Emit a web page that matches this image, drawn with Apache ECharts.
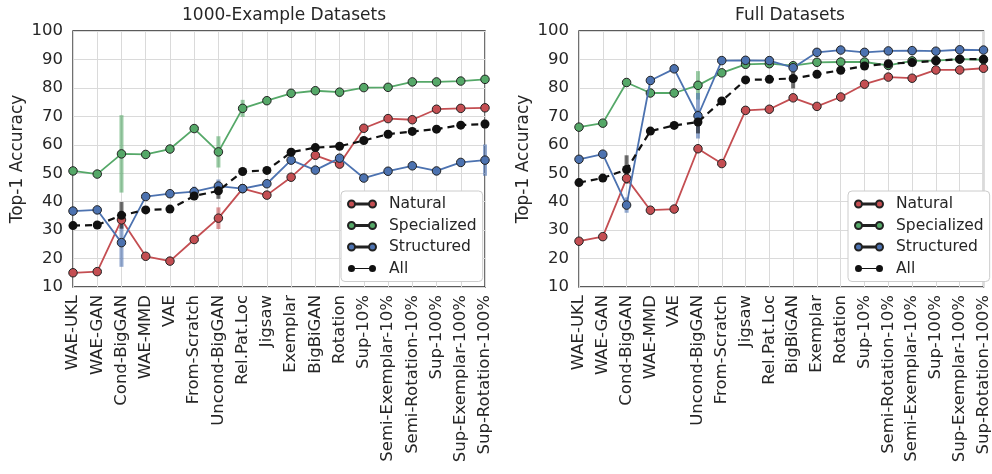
<!DOCTYPE html>
<html>
<head>
<meta charset="utf-8">
<script src="https://cdn.jsdelivr.net/npm/echarts@6/dist/echarts.min.js"></script>
<style>
html,body{margin:0;padding:0;background:#fff;}
#chart{width:992px;height:474px;}
</style>
</head>
<body>
<div id="chart"></div>
<script>
// ---------- data ----------
const categoriesLeft = ['WAE-UKL','WAE-GAN','Cond-BigGAN','WAE-MMD','VAE','From-Scratch','Uncond-BigGAN','Rel.Pat.Loc','Jigsaw','Exemplar','BigBiGAN','Rotation','Sup-10%','Semi-Exemplar-10%','Semi-Rotation-10%','Sup-100%','Sup-Exemplar-100%','Sup-Rotation-100%'];
const categoriesRight = ['WAE-UKL','WAE-GAN','Cond-BigGAN','WAE-MMD','VAE','Uncond-BigGAN','From-Scratch','Jigsaw','Rel.Pat.Loc','BigBiGAN','Exemplar','Rotation','Sup-10%','Semi-Rotation-10%','Semi-Exemplar-10%','Sup-100%','Sup-Exemplar-100%','Sup-Rotation-100%'];
const yTicks = [10,20,30,40,50,60,70,80,90,100];

const leftNatural     = [15.0,15.4,33.6,20.8,19.1,26.7,34.2,44.6,42.3,48.6,56.3,53.2,65.8,69.2,68.8,72.5,72.8,73.0];
const leftSpecialized = [50.8,49.7,56.8,56.6,58.5,65.7,57.5,72.8,75.5,78.1,79.0,78.5,80.1,80.2,82.1,82.1,82.4,83.0];
const leftStructured  = [36.7,37.1,25.6,41.8,42.8,43.5,45.5,44.6,46.3,54.6,51.1,55.3,48.3,50.7,52.6,50.8,53.8,54.6];
const leftAll         = [31.6,31.8,35.2,37.1,37.4,42.0,43.8,50.6,51.0,57.4,59.0,59.5,61.5,63.7,64.7,65.5,66.9,67.3];

const leftNaturalErr     = [0.5,0.5,1.0,0.5,0.5,0.8,3.8,0.8,0.8,0.8,0.8,1.0,0.8,0.8,0.8,0.8,0.8,0.8];
const leftSpecializedErr = [0.5,0.5,13.6,0.5,0.5,0.5,5.5,3.0,1.2,0.5,0.5,1.5,0.5,0.5,0.5,0.5,1.2,0.5];
const leftStructuredErr  = [0.5,0.5,8.5,0.5,0.5,1.8,2.3,0.5,0.5,0.8,0.5,1.0,1.2,1.5,0.8,1.2,0.8,5.5];
const leftAllErr         = [0.3,0.3,4.7,0.3,0.3,0.5,2.8,0.3,0.3,0.3,0.3,0.3,0.3,0.3,0.3,0.3,0.3,1.5];

const rightNatural     = [26.1,27.7,48.2,37.0,37.4,58.6,53.4,72.1,72.5,76.5,73.5,76.8,81.3,83.8,83.4,86.3,86.3,86.9];
const rightSpecialized = [66.2,67.6,81.9,78.2,78.2,80.9,85.3,88.3,88.5,87.8,89.0,89.1,89.1,87.9,89.5,89.6,90.1,89.9];
const rightStructured  = [54.9,56.7,38.8,82.6,86.7,70.2,89.6,89.7,89.6,87.1,92.5,93.3,92.5,93.0,93.1,92.9,93.4,93.3];
const rightAll         = [46.7,48.3,51.3,64.8,66.8,68.0,75.4,82.8,83.0,83.3,84.8,86.2,87.7,88.5,88.9,89.5,90.1,90.1];

const rightNaturalErr     = [0.3,0.3,0.5,0.3,0.3,1.0,0.3,0.3,0.3,0.3,0.3,0.3,0.3,0.3,0.3,0.3,0.3,0.3];
const rightSpecializedErr = [0.3,0.3,0.3,0.3,0.3,5.0,0.3,0.3,0.3,0.3,0.3,0.3,0.3,0.3,0.3,0.3,0.3,0.3];
const rightStructuredErr  = [0.3,0.3,2.7,0.3,0.3,8.0,0.3,0.3,0.3,0.5,0.3,0.3,0.3,0.3,0.3,0.3,0.3,0.3];
const rightAllErr         = [0.3,0.3,5.0,0.3,0.3,4.0,0.3,0.3,0.3,3.5,0.3,0.3,0.3,0.3,0.3,0.3,0.3,0.3];

const seriesNames = ['Natural','Specialized','Structured','All'];
const titles = ['1000-Example Datasets','Full Datasets'];

// ---------- styles ----------
const colors = {Natural:'#c44e52', Specialized:'#55a868', Structured:'#4c72b0', All:'#111111'};
const textColor = '#262626';
const FONT = 'DejaVu Sans';

const panels = [
  {cats: categoriesLeft, vals:[leftNatural,leftSpecialized,leftStructured,leftAll], errs:[leftNaturalErr,leftSpecializedErr,leftStructuredErr,leftAllErr]},
  {cats: categoriesRight, vals:[rightNatural,rightSpecialized,rightStructured,rightAll], errs:[rightNaturalErr,rightSpecializedErr,rightStructuredErr,rightAllErr]}
];

const gridLeft = [73, 579];
const grids = [], xAxes = [], yAxes = [], series = [], legends = [], titleArr = [];

const legendIcon = 'path://M0,5a5,5 0 1,0 10,0a5,5 0 1,0 -10,0zM10,4.2h20v1.6h-20zM30,5a5,5 0 1,0 10,0a5,5 0 1,0 -10,0z';

panels.forEach((p, gi) => {
  grids.push({left: gridLeft[gi], top: 31, width: 412, height: 256, show: true,
    borderColor: '#262626', borderWidth: 1.3, backgroundColor: '#fff'});
  xAxes.push({type: 'category', gridIndex: gi, data: p.cats, boundaryGap: false,
    axisLine: {show: false}, axisTick: {show: false},
    splitLine: {show: true, lineStyle: {color: '#dadada', width: 1}},
    axisLabel: {rotate: 90, interval: 0, fontSize: 16.5, fontFamily: FONT, color: textColor, margin: 8}});
  yAxes.push({type: 'value', gridIndex: gi, min: yTicks[0], max: yTicks[yTicks.length-1], interval: 10,
    name: 'Top-1 Accuracy', nameLocation: 'middle', nameGap: 47,
    nameTextStyle: {fontSize: 17, fontFamily: FONT, color: textColor},
    axisLine: {show: false}, axisTick: {show: false},
    splitLine: {show: true, lineStyle: {color: '#dadada', width: 1}},
    axisLabel: {fontSize: 16.5, fontFamily: FONT, color: textColor, margin: 10}});
  titleArr.push({text: titles[gi], left: gridLeft[gi] + 206, top: 2, textAlign: 'center',
    textStyle: {fontSize: 17, fontWeight: 'normal', fontFamily: FONT, color: textColor}});

  // error bars (drawn below lines)
  seriesNames.forEach((name, si) => {
    const vals = p.vals[si], errs = p.errs[si];
    series.push({
      type: 'custom', name: name + ' err', xAxisIndex: gi, yAxisIndex: gi, z: 1, silent: true,
      data: vals.map((v, i) => [i, v - errs[i], v + errs[i]]),
      renderItem: function(params, api) {
        const a = api.coord([api.value(0), api.value(1)]);
        const b = api.coord([api.value(0), api.value(2)]);
        return {type: 'line', shape: {x1: a[0], y1: a[1], x2: b[0], y2: b[1]},
          style: {stroke: colors[name], lineWidth: 4, opacity: 0.6}};
      }
    });
  });

  seriesNames.forEach((name, si) => {
    const isAll = name === 'All';
    series.push({
      type: 'line', name: name, xAxisIndex: gi, yAxisIndex: gi, z: 3 + si,
      data: p.vals[si],
      symbol: 'circle', symbolSize: isAll ? 9 : 8.5,
      lineStyle: {color: colors[name], width: isAll ? 2.2 : 1.8, type: isAll ? [7, 5] : 'solid'},
      itemStyle: {color: colors[name], borderColor: '#222', borderWidth: isAll ? 0 : 1},
      emphasis: {disabled: true},
      animation: false
    });
  });

  legends.push({
    data: seriesNames.map(n => ({name: n, icon: legendIcon})),
    orient: 'vertical', left: gi === 0 ? 341 : 848, top: 191,
    padding: [5, 6, 5, 6], itemGap: 5.5, itemWidth: 28, itemHeight: 9,
    borderColor: '#cccccc', borderWidth: 1, borderRadius: 4, backgroundColor: '#ffffff',
    textStyle: {fontSize: 15.5, fontFamily: FONT, color: textColor, padding: [0, 0, 0, 8]},
    selectedMode: false
  });
});

const chart = echarts.init(document.getElementById('chart'), null, {renderer: 'canvas'});
chart.setOption({
  backgroundColor: '#ffffff',
  animation: false,
  title: titleArr,
  grid: grids,
  xAxis: xAxes,
  yAxis: yAxes,
  legend: legends,
  series: series
});
</script>
</body>
</html>
